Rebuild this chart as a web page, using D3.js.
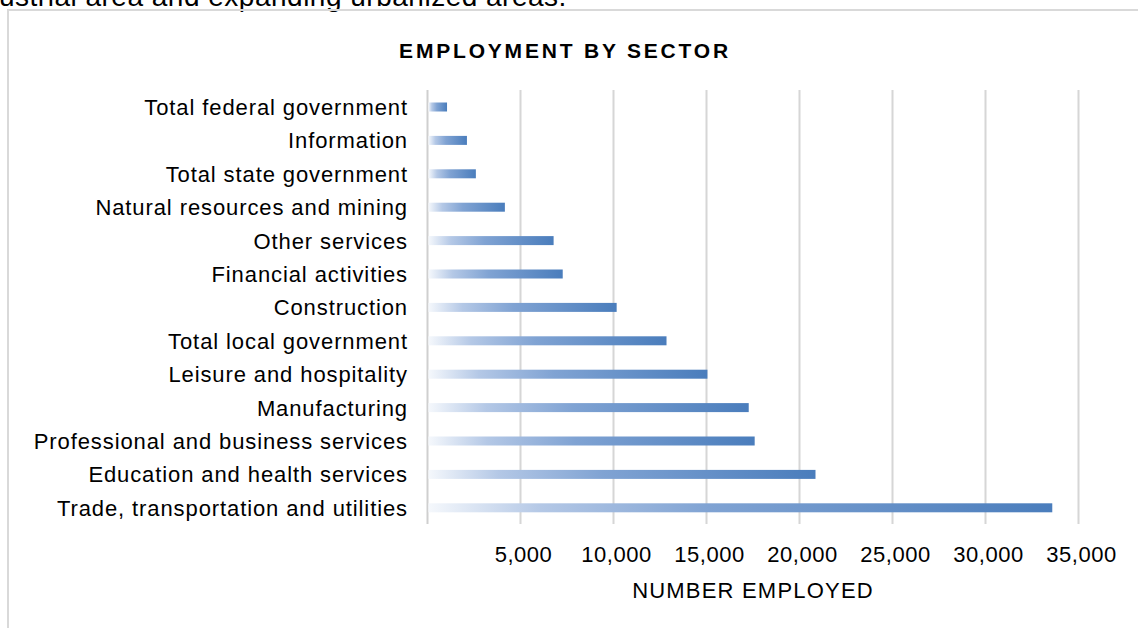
<!DOCTYPE html>
<html>
<head>
<meta charset="utf-8">
<title>Employment by sector</title>
<script src="https://d3js.org/d3.v7.min.js"></script>
<style>
body { margin: 0; background: #fff; font-family: "Liberation Sans", Arial, sans-serif; }
svg { display: block; }
</style>
</head>
<body>
<div id="chart"></div>
<script>

var width = 1138;
var height = 628;

// categories from top to bottom, as drawn
var sectors = [
	"Total federal government",
	"Information",
	"Total state government",
	"Natural resources and mining",
	"Other services",
	"Financial activities",
	"Construction",
	"Total local government",
	"Leisure and hospitality",
	"Manufacturing",
	"Professional and business services",
	"Education and health services",
	"Trade, transportation and utilities"
];

// number employed
var employed = [1050, 2120, 2600, 4160, 6780, 7270, 10170, 12850, 15050, 17270, 17590, 20860, 33590];

var tickValues = [5000, 10000, 15000, 20000, 25000, 30000, 35000];

var data = sectors.map(function (s, i) { return { sector: s, value: employed[i] }; });

var svg = d3.select("#chart").append("svg").attr("width", width).attr("height", height);

// bit of the page text above the chart, cut off by the crop
svg.append("text")
	.attr("x", -1)
	.attr("y", 6)
	.style("font-size", "28px")
	.style("letter-spacing", "0.5px")
	.style("fill", "#000")
	.text("ustrial area and expanding urbanized areas.");

// chart frame
svg.append("rect")
	.attr("x", 8)
	.attr("y", 10)
	.attr("width", 1140)
	.attr("height", 640)
	.style("fill", "none")
	.style("stroke", "#d9d9d9")
	.style("stroke-width", 2);

var grad = svg.append("defs").append("linearGradient")
	.attr("id", "barfill")
	.attr("x1", "0%").attr("x2", "100%")
	.attr("y1", "0%").attr("y2", "0%");
grad.append("stop").attr("offset", "0%").attr("stop-color", "#f5f8fc");
grad.append("stop").attr("offset", "18%").attr("stop-color", "#b4c8e6");
grad.append("stop").attr("offset", "45%").attr("stop-color", "#80a3d3");
grad.append("stop").attr("offset", "100%").attr("stop-color", "#4a7dbc");

var xScale = d3.scaleLinear().domain([0, 35000]).range([427.5, 1078.5]);
var yScale = d3.scalePoint().domain(sectors).range([90.3, 524.5]).padding(0.5);

var gridTop = 90, gridBottom = 524;

// gridlines, including the zero line
svg.selectAll(".grid").data([0].concat(tickValues))
	.enter().append("line")
	.attr("class", "grid")
	.attr("x1", function (d) { return xScale(d); })
	.attr("x2", function (d) { return xScale(d); })
	.attr("y1", gridTop)
	.attr("y2", gridBottom)
	.style("stroke", function (d) { return d === 0 ? "#cfcfcf" : "#d6d6d6"; })
	.style("stroke-width", 2);

svg.selectAll(".bar").data(data)
	.enter().append("rect")
	.attr("class", "bar")
	.attr("x", xScale(0) + 1)
	.attr("y", function (d) { return yScale(d.sector) - 4.5; })
	.attr("width", function (d) { return xScale(d.value) - xScale(0) - 1; })
	.attr("height", 9)
	.style("fill", "url(#barfill)");

// category labels
svg.selectAll(".cat").data(sectors)
	.enter().append("text")
	.attr("class", "cat")
	.attr("x", 408)
	.attr("y", function (d) { return yScale(d) + 8; })
	.attr("text-anchor", "end")
	.style("font-size", "22px")
	.style("letter-spacing", "0.9px")
	.style("fill", "#000")
	.text(function (d) { return d; });

// value axis labels
var fmt = d3.format(",");
svg.selectAll(".tick").data(tickValues)
	.enter().append("text")
	.attr("class", "tick")
	.attr("x", function (d) { return xScale(d) + 3; })
	.attr("y", 562)
	.attr("text-anchor", "middle")
	.style("font-size", "22px")
	.style("letter-spacing", "0.5px")
	.style("fill", "#000")
	.text(function (d) { return fmt(d); });

svg.append("text")
	.attr("x", 753)
	.attr("y", 598)
	.attr("text-anchor", "middle")
	.style("font-size", "22px")
	.style("letter-spacing", "1.2px")
	.style("fill", "#000")
	.text("NUMBER EMPLOYED");

svg.append("text")
	.attr("x", 565)
	.attr("y", 58)
	.attr("text-anchor", "middle")
	.style("font-size", "21px")
	.style("font-weight", "bold")
	.style("letter-spacing", "2.8px")
	.style("fill", "#000")
	.text("EMPLOYMENT BY SECTOR");

</script>
</body>
</html>
